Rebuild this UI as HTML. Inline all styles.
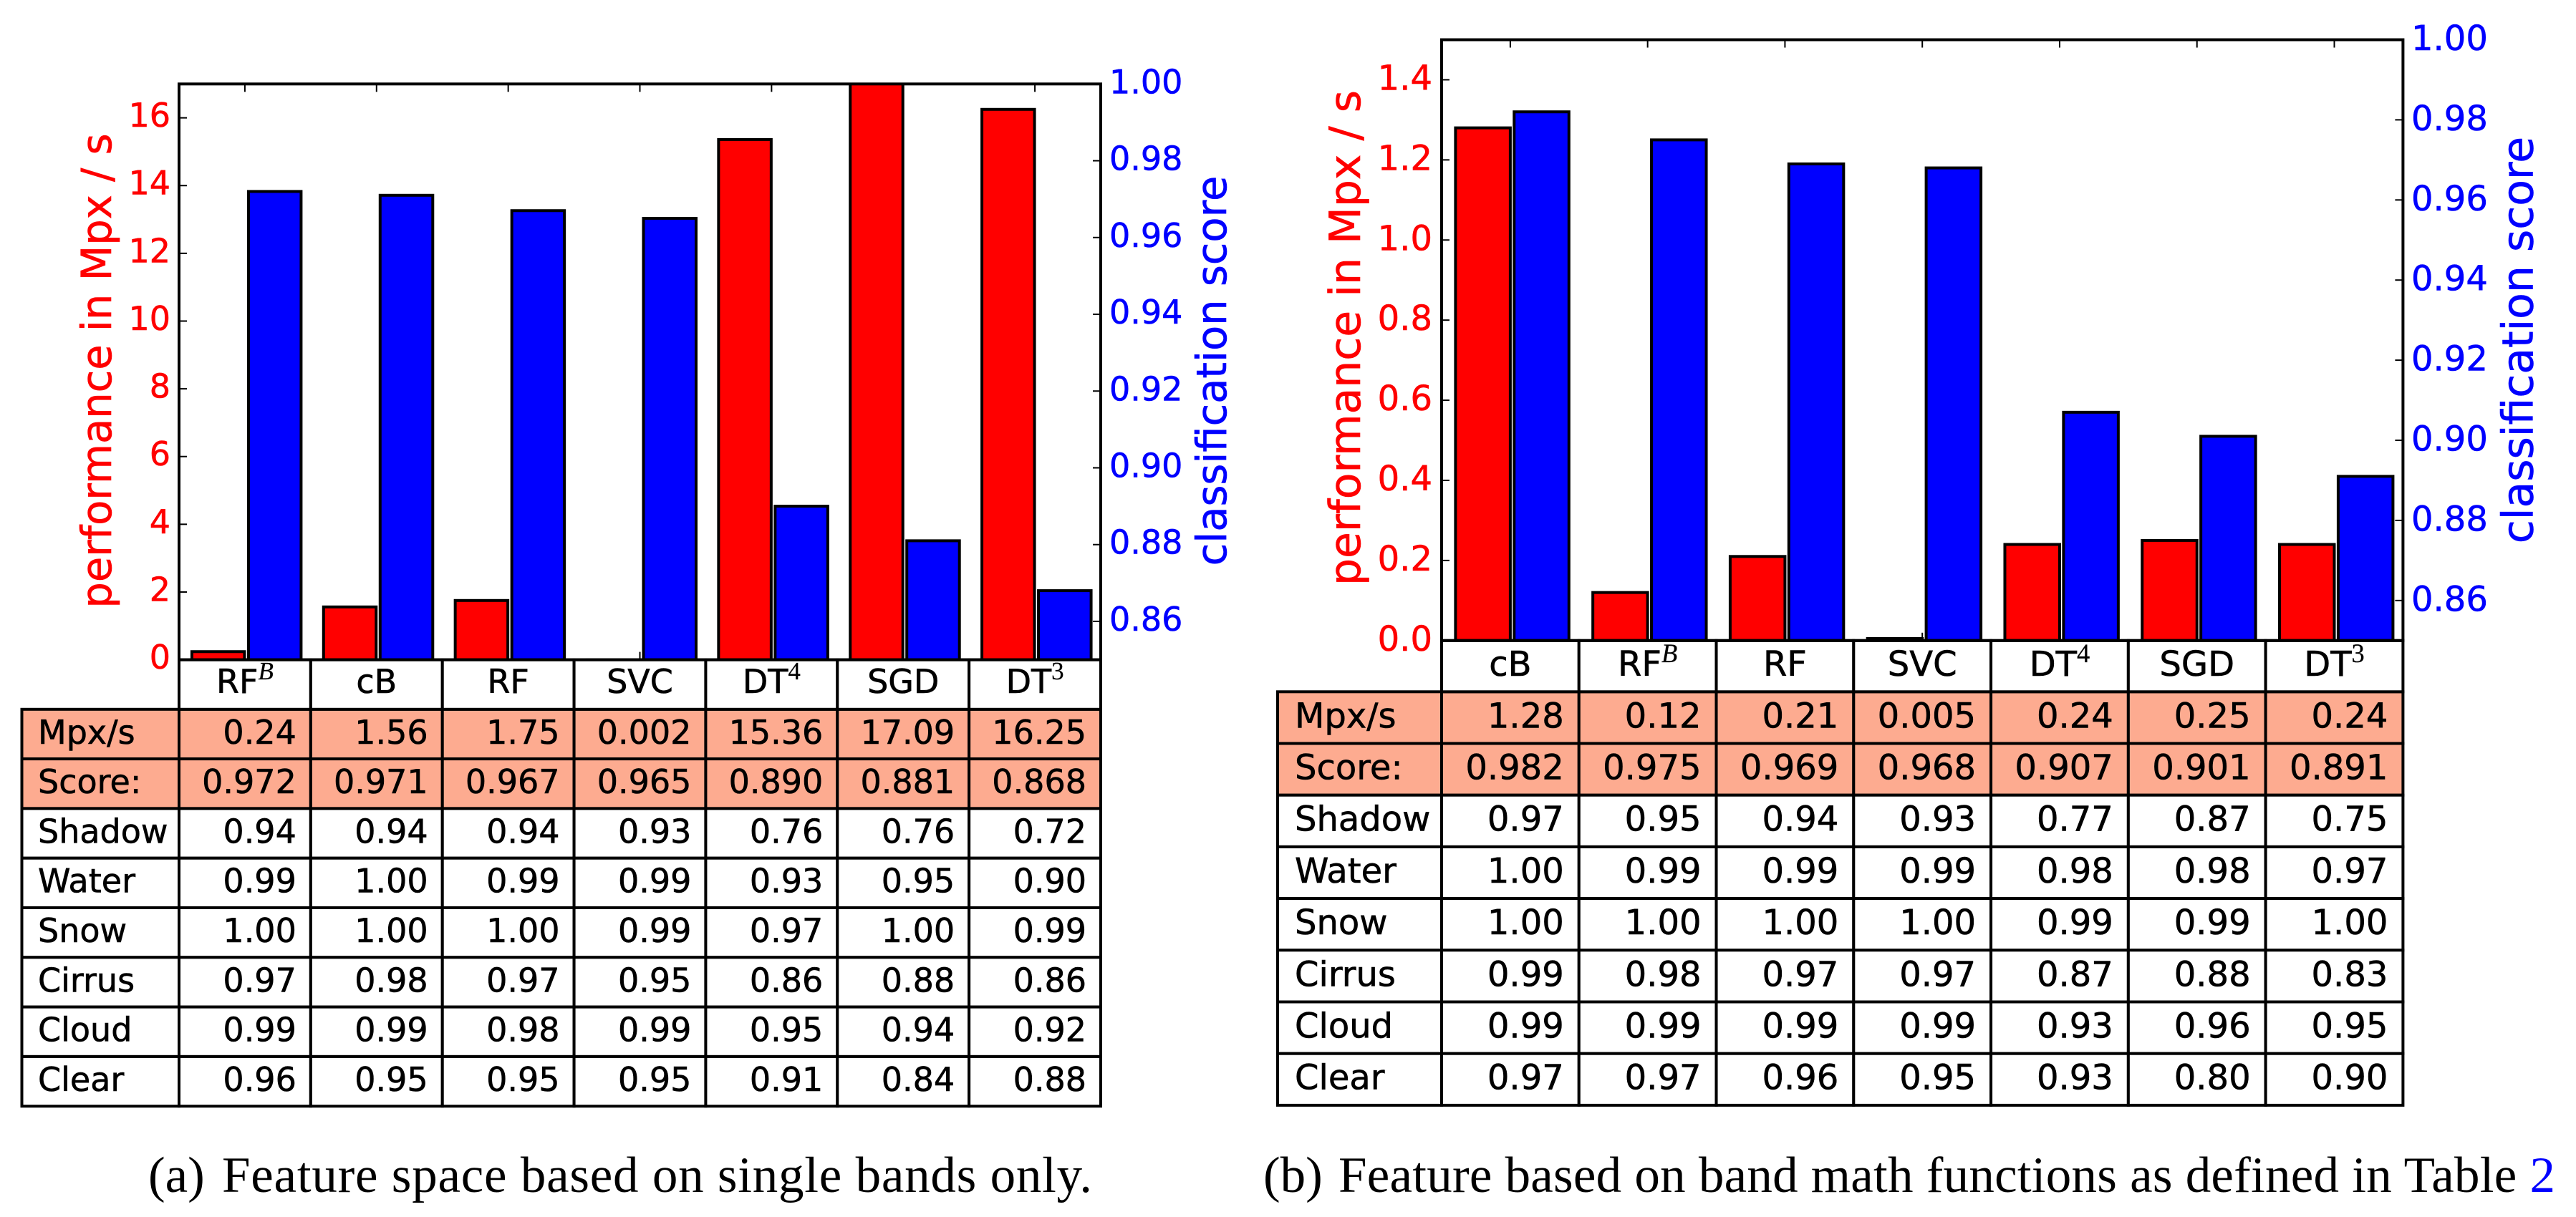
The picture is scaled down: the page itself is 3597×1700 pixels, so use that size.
<!DOCTYPE html>
<html lang="en">
<head>
<meta charset="utf-8">
<title>Classifier performance and classification score</title>
<style>
html,body{margin:0;padding:0;background:#fff;width:3597px;height:1700px;overflow:hidden}
svg{display:block}
text{font-family:"DejaVu Sans",sans-serif}
.cap{font-family:"Liberation Serif",serif;font-size:71px;fill:#000}
</style>
</head>
<body>
<svg id="fig" xmlns="http://www.w3.org/2000/svg" width="3597" height="1700" viewBox="0 0 3597 1700">
  <rect x="0" y="0" width="3597" height="1700" fill="#fff"/>
  <g id="panel-a"></g>
  <g id="panel-b"></g>
  <text class="cap" x="207" y="1665">(a)</text>
  <text class="cap" x="310" y="1665" textLength="1215">Feature space based on single bands only.</text>
  <text class="cap" x="1764" y="1665">(b)</text>
  <text class="cap" x="1869" y="1665" textLength="1699">Feature based on band math functions as defined in Table <tspan fill="#0000ff">2</tspan></text>
</svg>
<script>
// ---- Panel (a) data ----
var aCategories = ['RF','cB','RF','SVC','DT','SGD','DT'];
var aSuperscripts = ['B','','','','4','','3'];
var aPerformance = [0.24,1.56,1.75,0.002,15.36,17.09,16.25];
var aScore = [0.972,0.971,0.967,0.965,0.890,0.881,0.868];
var aPerfTicks = [0,2,4,6,8,10,12,14,16];
var aScoreTicks = [0.86,0.88,0.90,0.92,0.94,0.96,0.98,1.00];
var aPerfRange = [0,17];
var aScoreRange = [0.85,1.00];
var aClassLabels = ['Shadow','Water','Snow','Cirrus','Cloud','Clear'];
var aShadow = [0.94,0.94,0.94,0.93,0.76,0.76,0.72];
var aWater = [0.99,1.00,0.99,0.99,0.93,0.95,0.90];
var aSnow = [1.00,1.00,1.00,0.99,0.97,1.00,0.99];
var aCirrus = [0.97,0.98,0.97,0.95,0.86,0.88,0.86];
var aCloud = [0.99,0.99,0.98,0.99,0.95,0.94,0.92];
var aClear = [0.96,0.95,0.95,0.95,0.91,0.84,0.88];

// ---- Panel (b) data ----
var bCategories = ['cB','RF','RF','SVC','DT','SGD','DT'];
var bSuperscripts = ['','B','','','4','','3'];
var bPerformance = [1.28,0.12,0.21,0.005,0.24,0.25,0.24];
var bScore = [0.982,0.975,0.969,0.968,0.907,0.901,0.891];
var bPerfTicks = [0,0.2,0.4,0.6,0.8,1.0,1.2,1.4];
var bScoreTicks = [0.86,0.88,0.90,0.92,0.94,0.96,0.98,1.00];
var bPerfRange = [0,1.5];
var bScoreRange = [0.85,1.00];
var bClassLabels = ['Shadow','Water','Snow','Cirrus','Cloud','Clear'];
var bShadow = [0.97,0.95,0.94,0.93,0.77,0.87,0.75];
var bWater = [1.00,0.99,0.99,0.99,0.98,0.98,0.97];
var bSnow = [1.00,1.00,1.00,1.00,0.99,0.99,1.00];
var bCirrus = [0.99,0.98,0.97,0.97,0.87,0.88,0.83];
var bCloud = [0.99,0.99,0.99,0.99,0.93,0.96,0.95];
var bClear = [0.97,0.97,0.96,0.95,0.93,0.80,0.90];

var NS = 'http://www.w3.org/2000/svg';
var STROKE = 4;
var SALMON = '#fdab90';

function mk(parent, tag, attrs, txt) {
  var el = document.createElementNS(NS, tag);
  for (var k in attrs) el.setAttribute(k, attrs[k]);
  if (txt !== undefined) el.textContent = txt;
  parent.appendChild(el);
  return el;
}

function fmtMpx(v) { return v < 0.01 ? v.toFixed(3) : v.toFixed(2); }

function drawPanel(root, id, L, D) {
  var plotW = L.right - L.left;
  var n = D.categories.length;
  var colW = plotW / n;
  function xCenter(i) { return L.left + colW * (i + 0.5); }
  function yPerf(v) { return L.bottom - (v - D.perfRange[0]) / (D.perfRange[1] - D.perfRange[0]) * (L.bottom - L.top); }
  function yScore(v) { return L.bottom - (v - D.scoreRange[0]) / (D.scoreRange[1] - D.scoreRange[0]) * (L.bottom - L.top); }

  var defs = mk(root, 'defs', {});
  var clip = mk(defs, 'clipPath', {id: 'clip-' + id});
  mk(clip, 'rect', {x: L.left, y: L.top, width: plotW, height: L.bottom - L.top});

  // category ticks
  D.categories.forEach(function (c, i) {
    var t1 = mk(root, 'line', {x1: xCenter(i), x2: xCenter(i), y1: L.top, y2: L.top + 11, stroke: '#000', 'stroke-width': 2});
    
    
    var t2 = mk(root, 'line', {x1: xCenter(i), x2: xCenter(i), y1: L.bottom, y2: L.bottom - 11, stroke: '#000', 'stroke-width': 2});
    
    
  });

  // bars
  var barGroup = mk(root, 'g', {'clip-path': 'url(#clip-' + id + ')'});
  
  
  D.performance.forEach(function (v, i) {
    var y = yPerf(v);
    var r = mk(barGroup, 'rect', {x: xCenter(i) + L.redOff, y: y, width: L.barW, height: Math.max(0, L.bottom - y), fill: '#ff0000', stroke: '#000', 'stroke-width': STROKE});
    
    
  });
  D.score.forEach(function (v, i) {
    var y = yScore(v);
    var r = mk(barGroup, 'rect', {x: xCenter(i) + L.blueOff, y: y, width: L.barW, height: Math.max(0, L.bottom - y), fill: '#0000ff', stroke: '#000', 'stroke-width': STROKE});
    
    
  });

  // y axis ticks + labels
  D.perfTicks.forEach(function (v) {
    var y = yPerf(v);
    var t = mk(root, 'line', {x1: L.left, x2: L.left + 11, y1: y, y2: y, stroke: '#000', 'stroke-width': 2});
    
    
    var lab = mk(root, 'text', {x: L.leftLabelX, y: y + L.tickDy, 'text-anchor': 'end', fill: '#ff0000', stroke: '#ff0000', 'stroke-width': 0.6, 'font-size': L.font}, v.toFixed(D.perfDecimals));
    
    
  });
  D.scoreTicks.forEach(function (v) {
    var y = yScore(v);
    var t = mk(root, 'line', {x1: L.right, x2: L.right - 11, y1: y, y2: y, stroke: '#000', 'stroke-width': 2});
    
    
    var lab = mk(root, 'text', {x: L.rightLabelX, y: y + L.tickDy + 0.5, fill: '#0000ff', stroke: '#0000ff', 'stroke-width': 0.6, 'font-size': L.font}, v.toFixed(2));
    
    
  });

  // axis titles
  var yt = mk(root, 'text', {transform: 'translate(' + L.perfTitleX + ',' + L.perfTitleY + ') rotate(-90)', 'text-anchor': 'middle', fill: '#ff0000', stroke: '#ff0000', 'stroke-width': 0.6, 'font-size': L.perfTitleFont}, 'performance in Mpx / s');
  
  
  var yt2 = mk(root, 'text', {transform: 'translate(' + L.scoreTitleX + ',' + L.scoreTitleY + ') rotate(-90)', 'text-anchor': 'middle', fill: '#0000ff', stroke: '#0000ff', 'stroke-width': 0.6, 'font-size': L.scoreTitleFont}, 'classification score');
  
  

  // table
  var rows = [
    {label: 'Mpx/s', cells: D.performance.map(fmtMpx), fill: SALMON},
    {label: 'Score:', cells: D.score.map(function (v) { return v.toFixed(3); }), fill: SALMON}
  ];
  D.classLabels.forEach(function (lab, i) {
    rows.push({label: lab, cells: D.classRows[i].map(function (v) { return v.toFixed(2); }), fill: '#fff'});
  });
  rows.forEach(function (row, r) {
    var top = L.tableTop + r * L.rowH;
    var cellLabel = mk(root, 'rect', {x: L.tableLeft, y: top, width: L.left - L.tableLeft, height: L.rowH, fill: row.fill, stroke: '#000', 'stroke-width': STROKE});
    
    
    var tl = mk(root, 'text', {x: L.labelX, y: top + L.rowDy, fill: '#000', stroke: '#000', 'stroke-width': 0.6, 'font-size': L.font}, row.label);
    
    
    row.cells.forEach(function (val, c) {
      var x = L.left + c * colW;
      var cell = mk(root, 'rect', {x: x, y: top, width: colW, height: L.rowH, fill: row.fill, stroke: '#000', 'stroke-width': STROKE});
      
      
      var tv = mk(root, 'text', {x: x + colW - L.cellPad, y: top + L.rowDy, 'text-anchor': 'end', fill: '#000', stroke: '#000', 'stroke-width': 0.6, 'font-size': L.font}, val);
      
      
    });
  });

  // header row of table (category labels)
  D.categories.forEach(function (c, i) {
    var x = L.left + i * colW;
    var cell = mk(root, 'rect', {x: x, y: L.bottom, width: colW, height: L.tableTop - L.bottom, fill: '#fff', stroke: '#000', 'stroke-width': STROKE});
    
    
    var t = mk(root, 'text', {x: xCenter(i), y: L.headerY, 'text-anchor': 'middle', fill: '#000', stroke: '#000', 'stroke-width': 0.6, 'font-size': L.font}, c);
    
    
    var sup = D.superscripts[i];
    if (sup) {
      var isLetter = sup === 'B';
      var s = mk(t, 'tspan', {dy: -19, 'font-size': L.font * 0.76, 'font-style': isLetter ? 'italic' : 'normal', 'stroke-width': 0.2, style: 'font-family:"Liberation Serif",serif'}, sup);
      
      
    }
  });

  // plot frame
  var frame = mk(root, 'rect', {x: L.left, y: L.top, width: plotW, height: L.bottom - L.top, fill: 'none', stroke: '#000', 'stroke-width': STROKE});
  
  
}

drawPanel(document.getElementById('panel-a'), 'a', {
  left: 250, right: 1537, top: 117.3, bottom: 921.6,
  redOff: -74, blueOff: 5, barW: 73.5,
  font: 46, tickDy: 12.5, leftLabelX: 238, rightLabelX: 1549,
  perfTitleX: 155, perfTitleY: 518, perfTitleFont: 57.5,
  scoreTitleX: 1712, scoreTitleY: 518, scoreTitleFont: 57.5,
  tableTop: 990.8, rowH: 69.3, tableLeft: 30.5, labelX: 53, rowDy: 48, cellPad: 20, headerY: 968
}, {
  categories: aCategories, superscripts: aSuperscripts, performance: aPerformance, score: aScore,
  perfTicks: aPerfTicks, scoreTicks: aScoreTicks, perfRange: aPerfRange, scoreRange: aScoreRange, perfDecimals: 0,
  classLabels: aClassLabels, classRows: [aShadow, aWater, aSnow, aCirrus, aCloud, aClear]
});

drawPanel(document.getElementById('panel-b'), 'b', {
  left: 2013, right: 3355.4, top: 55.5, bottom: 894.8,
  redOff: -76.5, blueOff: 5.4, barW: 76.5,
  font: 48, tickDy: 14, leftLabelX: 2000, rightLabelX: 3367,
  perfTitleX: 1899, perfTitleY: 472, perfTitleFont: 60,
  scoreTitleX: 3536.7, scoreTitleY: 475, scoreTitleFont: 60,
  tableTop: 966.3, rowH: 72.2, tableLeft: 1784, labelX: 1808, rowDy: 50, cellPad: 21, headerY: 944
}, {
  categories: bCategories, superscripts: bSuperscripts, performance: bPerformance, score: bScore,
  perfTicks: bPerfTicks, scoreTicks: bScoreTicks, perfRange: bPerfRange, scoreRange: bScoreRange, perfDecimals: 1,
  classLabels: bClassLabels, classRows: [bShadow, bWater, bSnow, bCirrus, bCloud, bClear]
});
</script>
</body>
</html>
